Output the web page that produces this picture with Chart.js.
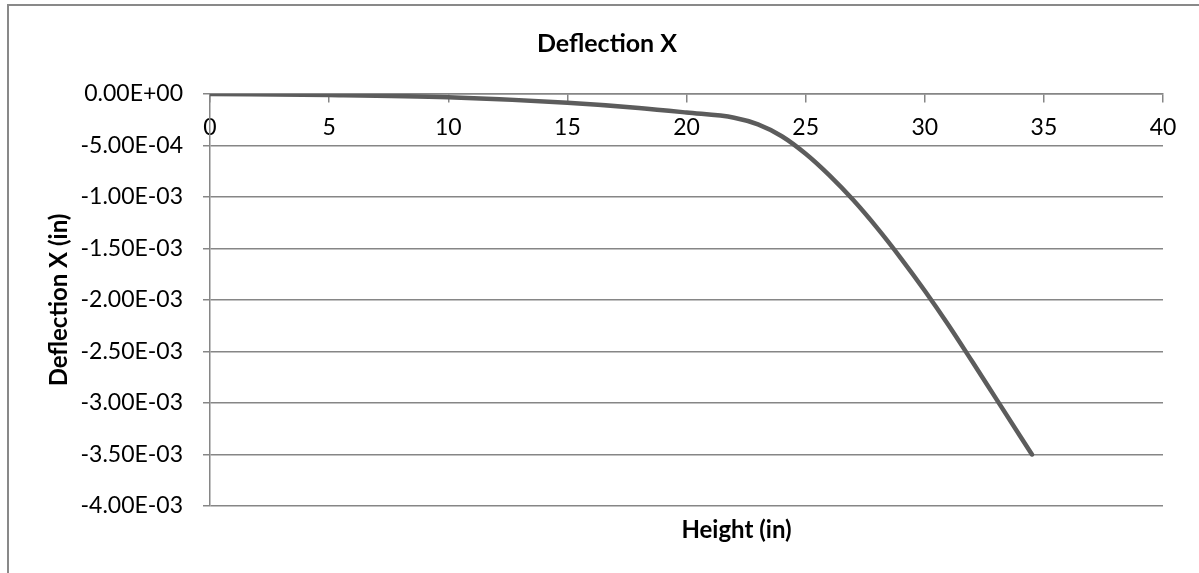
<!DOCTYPE html>
<html>
<head>
<meta charset="utf-8">
<title>Deflection X</title>
<script src="https://cdn.jsdelivr.net/npm/chart.js@4.4.1/dist/chart.umd.min.js"></script>
<style>
    body { margin: 0; background: #fff; overflow: hidden; }
    #frame { position: absolute; left: 7px; top: 4px; width: 1300px; height: 700px; border: 2px solid #898989; }
    #wrap { position: absolute; left: 0; top: 0; width: 1199px; height: 573px; }
</style>
</head>
<body>
<div id="frame"></div>
<div id="wrap"><canvas id="deflection-chart" width="1199" height="573"></canvas></div>
<script>
// Values
const heights = [0, 5, 10, 15, 18, 20, 22, 23, 24, 25, 26, 27, 28, 29, 30, 31, 32, 33, 34, 34.5];
const deflection = [0, -0.00001, -0.000032, -0.000085, -0.000135, -0.00018, -0.00023, -0.000295, -0.00041,
    -0.00058, -0.00079, -0.00103, -0.0013, -0.001595, -0.00191, -0.002245, -0.0026, -0.00296, -0.00332, -0.0035];
const xTicks = [0, 5, 10, 15, 20, 25, 30, 35, 40];
const yTicks = [0, -0.0005, -0.001, -0.0015, -0.002, -0.0025, -0.003, -0.0035, -0.004];
const xTitleText = "Height (in)";

const gridGray = "#868686";
const fontName = "Lato, 'Open Sans', sans-serif";

// Excel style scientific labels, e.g. -5.00E-04
function sciLabel(v) {
    if (Math.abs(v) < 1e-12) return "0.00E+00";
    const parts = v.toExponential(2).split("e");
    const sign = parts[1][0];
    const exp = parts[1].slice(1).padStart(2, "0");
    return parts[0] + "E" + sign + exp;
}

// The x axis sits at y = 0, so its title is drawn under the plot by hand
const xTitlePlugin = {
    id: "xTitleBelow",
    afterDraw(chart) {
        const { ctx, chartArea } = chart;
        ctx.save();
        ctx.font = "bold 24px " + fontName;
        ctx.fillStyle = "#000";
        ctx.textAlign = "center";
        ctx.textBaseline = "middle";
        ctx.fillText(xTitleText, (chartArea.left + chartArea.right) / 2 + 50, chartArea.bottom + 24);
        ctx.restore();
    }
};

const points = heights.map((h, i) => ({ x: h, y: deflection[i] }));

new Chart(document.getElementById("deflection-chart"), {
    type: "line",
    data: {
        datasets: [{
            label: "Deflection X",
            data: points,
            borderColor: "#5c5c5c",
            borderWidth: 4.5,
            borderCapStyle: "round",
            pointRadius: 0,
            cubicInterpolationMode: "monotone",
            fill: false
        }]
    },
    options: {
        responsive: false,
        animation: false,
        layout: { padding: { left: 15, right: 0, top: 0, bottom: 67 } },
        plugins: {
            legend: { display: false },
            tooltip: { enabled: false },
            title: {
                display: true,
                text: "Deflection X",
                color: "#000",
                font: { family: fontName, size: 25, weight: "bold" },
                padding: { top: 29, bottom: 35 }
            }
        },
        scales: {
            x: {
                type: "linear",
                position: { y: 0 },
                min: 0,
                max: 40,
                afterBuildTicks: (scale) => { scale.ticks = xTicks.map(v => ({ value: v })); },
                ticks: {
                    color: "#000",
                    padding: 12,
                    font: { family: fontName, size: 23 }
                },
                grid: { drawOnChartArea: false, color: gridGray, lineWidth: 1.5, tickLength: 8 },
                border: { display: true, color: gridGray, width: 1.5 }
            },
            y: {
                type: "linear",
                position: "left",
                min: -0.004,
                max: 0,
                afterBuildTicks: (scale) => { scale.ticks = yTicks.map(v => ({ value: v })); },
                afterFit: (scale) => { scale.width = 195; },
                ticks: {
                    color: "#000",
                    padding: 20,
                    font: { family: fontName, size: 23 },
                    callback: (v) => sciLabel(v)
                },
                grid: { color: gridGray, lineWidth: 1.5, tickLength: 7 },
                border: { display: true, color: gridGray, width: 1.5 },
                title: {
                    display: true,
                    text: "Deflection X (in)",
                    color: "#000",
                    font: { family: fontName, size: 24, weight: "bold" },
                    padding: { top: 30, bottom: 0 }
                }
            },
            rightGap: {
                type: "linear",
                axis: "y",
                position: "right",
                ticks: { display: false },
                grid: { display: false, drawTicks: false },
                border: { display: false },
                afterFit: (scale) => { scale.width = 36; }
            }
        }
    },
    plugins: [xTitlePlugin]
});
</script>
</body>
</html>
